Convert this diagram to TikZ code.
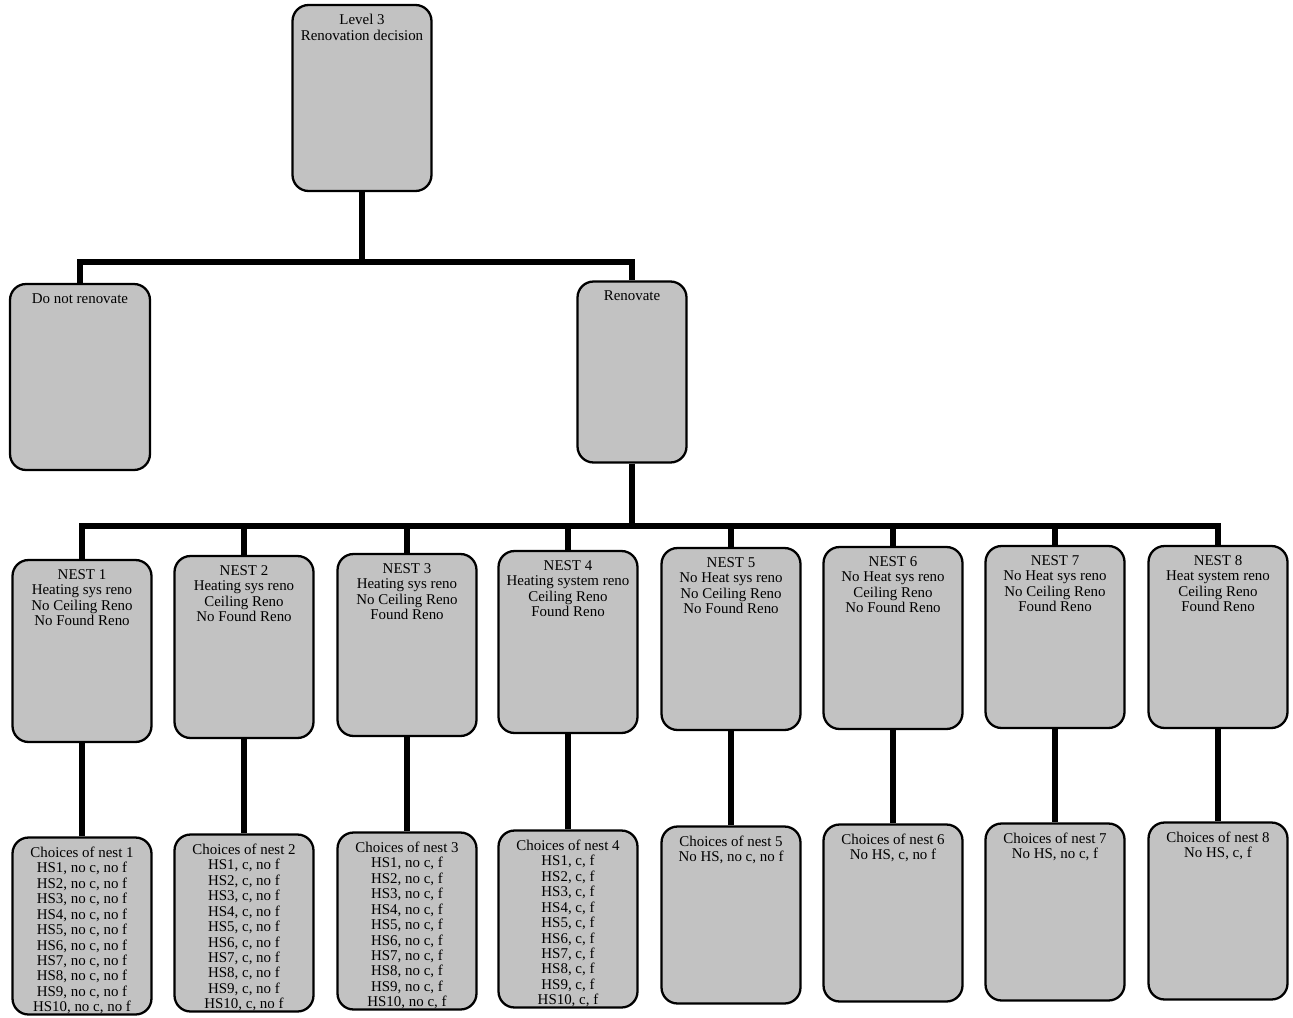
\documentclass[tikz,border=0pt]{standalone}
\usepackage{fontspec}
\setmainfont{Liberation Serif}
\usetikzlibrary{positioning}

\begin{document}
\begin{tikzpicture}[x=0.02cm, y=-0.02cm]
    \tikzset{
        block/.style={rectangle, draw=black, line width=1.3pt, fill=black!24, rounded corners=0.32cm, minimum width=2.78cm, minimum height=3.64cm, inner sep=0pt},
        choice/.style={block, minimum height=3.54cm},
        caption/.style={anchor=north, align=center, inner sep=0pt, yshift=-0.2cm, font=\fontsize{8.5}{8.8}\selectfont},
        line/.style={draw, line width=3.6pt}
    }
    \useasboundingbox (0,0) rectangle (1293,1017);

    \node (Decision) [block, minimum height=3.72cm, label={[caption]north:{Level 3\\Renovation decision}}] at (362,98) {};

    \node (NoReno) [block, minimum width=2.8cm, minimum height=3.72cm, label={[caption]north:{Do not renovate}}] at (80,377) {};
    \node (Reno) [block, minimum width=2.18cm, minimum height=3.62cm, label={[caption]north:{Renovate}}] at (632,372) {};

    % nests
    \node (Nest1) [block, label={[caption]north:{NEST 1\\Heating sys reno\\No Ceiling Reno\\No Found Reno}}] at (82,651) {};
    \node (Nest2) [block, label={[caption]north:{NEST 2\\Heating sys reno\\Ceiling Reno\\No Found Reno}}] at (244,647) {};
    \node (Nest3) [block, label={[caption]north:{NEST 3\\Heating sys reno\\No Ceiling Reno\\Found Reno}}] at (407,645) {};
    \node (Nest4) [block, label={[caption]north:{NEST 4\\Heating system reno\\Ceiling Reno\\Found Reno}}] at (568,642) {};
    \node (Nest5) [block, label={[caption]north:{NEST 5\\No Heat sys reno\\No Ceiling Reno\\No Found Reno}}] at (731,639) {};
    \node (Nest6) [block, label={[caption]north:{NEST 6\\No Heat sys reno\\Ceiling Reno\\No Found Reno}}] at (893,638) {};
    \node (Nest7) [block, label={[caption]north:{NEST 7\\No Heat sys reno\\No Ceiling Reno\\Found Reno}}] at (1055,637) {};
    \node (Nest8) [block, label={[caption]north:{NEST 8\\Heat system reno\\Ceiling Reno\\Found Reno}}] at (1218,637) {};

    % choices
    \node (Choice1) [choice, label={[caption]north:{Choices of nest 1\\HS1, no c, no f\\HS2, no c, no f\\HS3, no c, no f\\HS4, no c, no f\\HS5, no c, no f\\HS6, no c, no f\\HS7, no c, no f\\HS8, no c, no f\\HS9, no c, no f\\HS10, no c, no f}}] at (82,926) {};
    \node (Choice2) [choice, label={[caption]north:{Choices of nest 2\\HS1, c, no f\\HS2, c, no f\\HS3, c, no f\\HS4, c, no f\\HS5, c, no f\\HS6, c, no f\\HS7, c, no f\\HS8, c, no f\\HS9, c, no f\\HS10, c, no f}}] at (244,923) {};
    \node (Choice3) [choice, label={[caption]north:{Choices of nest 3\\HS1, no c, f\\HS2, no c, f\\HS3, no c, f\\HS4, no c, f\\HS5, no c, f\\HS6, no c, f\\HS7, no c, f\\HS8, no c, f\\HS9, no c, f\\HS10, no c, f}}] at (407,921) {};
    \node (Choice4) [choice, label={[caption]north:{Choices of nest 4\\HS1, c, f\\HS2, c, f\\HS3, c, f\\HS4, c, f\\HS5, c, f\\HS6, c, f\\HS7, c, f\\HS8, c, f\\HS9, c, f\\HS10, c, f}}] at (568,919) {};
    \node (Choice5) [choice, label={[caption]north:{Choices of nest 5\\No HS, no c, no f}}] at (731,915) {};
    \node (Choice6) [choice, label={[caption]north:{Choices of nest 6\\No HS, c, no f}}] at (893,913) {};
    \node (Choice7) [choice, label={[caption]north:{Choices of nest 7\\No HS, no c, f}}] at (1055,912) {};
    \node (Choice8) [choice, label={[caption]north:{Choices of nest 8\\No HS, c, f}}] at (1218,911) {};

    \coordinate (Bus1) at (362,262);
    \coordinate (Bus2) at (632,526);

    \path [line] (Decision) -- (Bus1);
    \path [line] (NoReno) |- (Bus1) -| (Reno);

    \path [line] (Reno) -- (Bus2);
    \path [line] (Nest1) |- (Bus2) -| (Nest8);
    \path [line] (Nest2) -- (Nest2 |- Bus2);
    \path [line] (Nest3) -- (Nest3 |- Bus2);
    \path [line] (Nest4) -- (Nest4 |- Bus2);
    \path [line] (Nest5) -- (Nest5 |- Bus2);
    \path [line] (Nest6) -- (Nest6 |- Bus2);
    \path [line] (Nest7) -- (Nest7 |- Bus2);

    \path [line] (Nest1) -- (Choice1);
    \path [line] (Nest2) -- (Choice2);
    \path [line] (Nest3) -- (Choice3);
    \path [line] (Nest4) -- (Choice4);
    \path [line] (Nest5) -- (Choice5);
    \path [line] (Nest6) -- (Choice6);
    \path [line] (Nest7) -- (Choice7);
    \path [line] (Nest8) -- (Choice8);

\end{tikzpicture}
\end{document}
